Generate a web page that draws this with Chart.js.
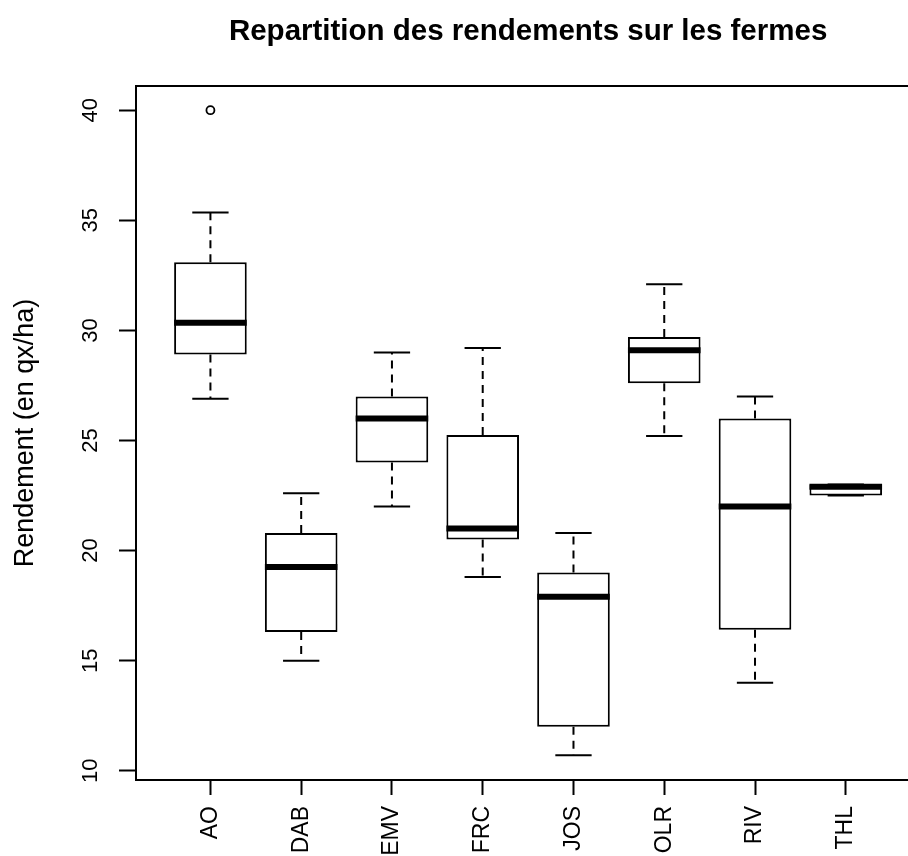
<!DOCTYPE html>
<html>
<head>
<meta charset="utf-8">
<title>Repartition des rendements sur les fermes</title>
<script src="https://cdn.jsdelivr.net/npm/chart.js@4.4.1/dist/chart.umd.min.js"></script>
<style>
  html, body { margin: 0; padding: 0; background: #fff; overflow: hidden; }
  #wrap { position: relative; width: 926px; height: 856px; }
</style>
</head>
<body>
<div id="wrap"><canvas id="c"></canvas></div>
<script>
// Farms and the five-number summaries of their yields (qx/ha)
const categories  = ['AO', 'DAB', 'EMV', 'FRC', 'JOS', 'OLR', 'RIV', 'THL'];
const whiskerLow  = [26.9, 15.0, 22.0, 18.8, 10.7, 25.2, 14.0, 22.5];
const quartile1   = [28.9, 16.3, 24.0, 20.5, 12.0, 27.6, 16.4, 22.5];
const medians     = [30.35, 19.25, 26.0, 21.0, 17.9, 29.1, 22.0, 22.9];
const quartile3   = [33.1, 20.8, 27.0, 25.25, 19.0, 29.7, 26.0, 23.0];
const whiskerHigh = [35.35, 22.6, 29.0, 29.2, 20.8, 32.1, 27.0, 23.0];
const outlierFarms  = ['AO'];
const outlierValues = [40];
const yTicks = [10, 15, 20, 25, 30, 35, 40];

const FONT = "'Liberation Sans', Arial, sans-serif";
const BOX_HALF = 0.4;     // half box width, in category units
const STAPLE_HALF = 0.2;  // half staple width

// Whiskers, staples, medians and the frame around the plot region
const boxplotMarks = {
  id: 'boxplotMarks',
  afterDatasetsDraw(chart) {
    const { ctx, chartArea, scales: { x, y } } = chart;
    ctx.save();
    ctx.strokeStyle = '#000';
    ctx.lineCap = 'butt';
    categories.forEach((name, i) => {
      const pos = i + 1;
      const cx = x.getPixelForValue(pos);
      const yQ1 = y.getPixelForValue(quartile1[i]);
      const yQ3 = y.getPixelForValue(quartile3[i]);
      const yLo = y.getPixelForValue(whiskerLow[i]);
      const yHi = y.getPixelForValue(whiskerHigh[i]);

      ctx.lineWidth = 2;
      ctx.setLineDash([8, 6]);
      ctx.beginPath();
      if (whiskerHigh[i] > quartile3[i]) { ctx.moveTo(cx, yQ3); ctx.lineTo(cx, yHi); }
      if (whiskerLow[i] < quartile1[i]) { ctx.moveTo(cx, yQ1); ctx.lineTo(cx, yLo); }
      ctx.stroke();
      ctx.setLineDash([]);

      const sL = x.getPixelForValue(pos - STAPLE_HALF);
      const sR = x.getPixelForValue(pos + STAPLE_HALF);
      ctx.beginPath();
      ctx.moveTo(sL, yHi); ctx.lineTo(sR, yHi);
      ctx.moveTo(sL, yLo); ctx.lineTo(sR, yLo);
      ctx.stroke();

      const bL = x.getPixelForValue(pos - BOX_HALF);
      const bR = x.getPixelForValue(pos + BOX_HALF);
      const yMed = y.getPixelForValue(medians[i]);
      ctx.lineWidth = 6;
      ctx.beginPath();
      ctx.moveTo(bL, yMed); ctx.lineTo(bR, yMed);
      ctx.stroke();
    });
    ctx.lineWidth = 2;
    ctx.strokeRect(chartArea.left, chartArea.top,
                   chartArea.right - chartArea.left, chartArea.bottom - chartArea.top);
    ctx.restore();
  }
};

new Chart(document.getElementById('c'), {
  type: 'bar',
  data: {
    datasets: [
      {
        label: 'Boites',
        data: categories.map((c, i) => ({ x: i + 1, y: [quartile1[i], quartile3[i]] })),
        backgroundColor: '#ffffff',
        borderColor: '#000000',
        borderWidth: 2,
        borderSkipped: false,
        categoryPercentage: 1.0,
        barPercentage: 2 * BOX_HALF
      },
      {
        type: 'scatter',
        label: 'Valeurs extremes',
        data: outlierFarms.map((f, i) => ({ x: categories.indexOf(f) + 1, y: outlierValues[i] })),
        pointStyle: 'circle',
        pointRadius: 4,
        pointBorderWidth: 1.8,
        pointBorderColor: '#000000',
        pointBackgroundColor: 'rgba(0,0,0,0)'
      }
    ]
  },
  options: {
    responsive: true,
    maintainAspectRatio: false,
    devicePixelRatio: 1,
    animation: false,
    layout: { padding: 0 },
    plugins: {
      legend: { display: false },
      tooltip: { enabled: false },
      title: {
        display: true,
        fullSize: false,
        text: 'Repartition des rendements sur les fermes',
        color: '#000',
        font: { family: FONT, size: 29.5, weight: 'bold' },
        padding: { top: 14, bottom: 36.6 }
      }
    },
    scales: {
      x: {
        type: 'linear',
        min: 0.18,
        max: 8.82,
        offset: false,
        grid: { offset: false, drawOnChartArea: false, drawTicks: true, tickLength: 15, tickWidth: 2, tickColor: '#000' },
        border: { display: false },
        afterBuildTicks: (scale) => { scale.ticks = categories.map((c, i) => ({ value: i + 1 })); },
        afterFit: (scale) => { scale.height = 76; },
        ticks: {
          autoSkip: false,
          minRotation: 90,
          maxRotation: 90,
          padding: 11,
          color: '#000',
          font: { family: FONT, size: 23 },
          callback: (v) => categories[Math.round(v) - 1]
        }
      },
      y: {
        type: 'linear',
        min: 9.58,
        max: 41.1,
        beginAtZero: false,
        grid: { drawOnChartArea: false, drawTicks: true, tickLength: 17, tickWidth: 2, tickColor: '#000' },
        border: { display: false },
        afterBuildTicks: (scale) => { scale.ticks = yTicks.map(v => ({ value: v })); },
        afterFit: (scale) => { scale.width = 136; },
        title: {
          display: true,
          text: 'Rendement (en qx/ha)',
          color: '#000',
          font: { family: FONT, size: 27 },
          padding: { top: 9, bottom: 0 }
        },
        ticks: {
          minRotation: 90,
          maxRotation: 90,
          crossAlign: 'center',
          padding: 16,
          color: '#000',
          font: { family: FONT, size: 22 }
        }
      }
    }
  },
  plugins: [boxplotMarks]
});
</script>
</body>
</html>
